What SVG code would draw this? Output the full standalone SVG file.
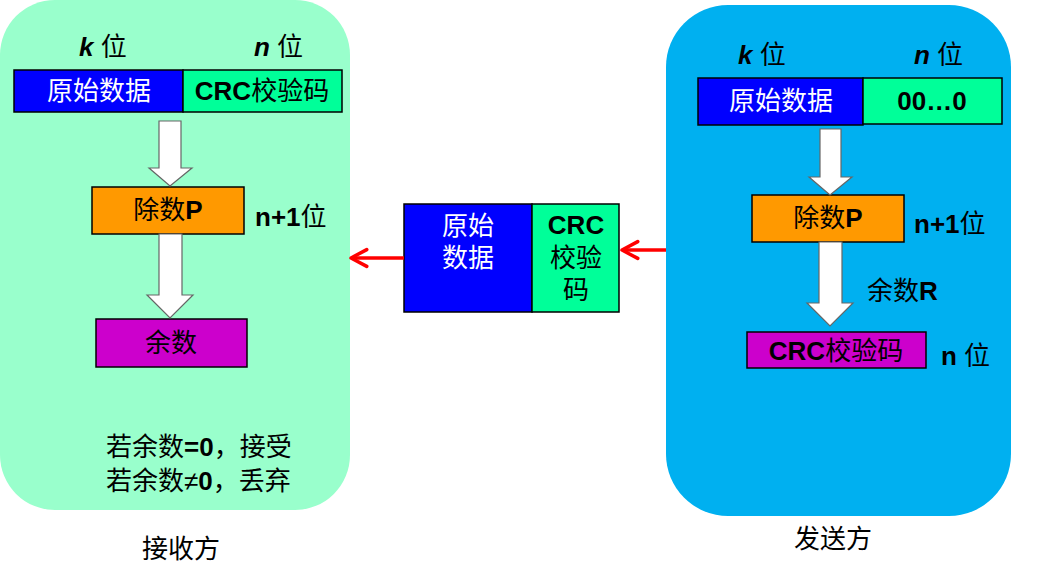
<svg xmlns="http://www.w3.org/2000/svg" width="1054" height="570" viewBox="0 0 1054 570">
<style>
.t{font-family:"Liberation Sans","Noto Sans CJK SC",sans-serif;font-size:26px;fill:#000}
.w{fill:#fff}
.b{font-weight:bold}
.i{font-style:italic;font-weight:bold}
.box{stroke:#000;stroke-width:1.5}
.ha{fill:#fff;stroke:#666;stroke-width:1.2}
.red{stroke:#f00;stroke-width:3.5;fill:none}
</style>
<defs>
<marker id="ah" markerUnits="strokeWidth" markerWidth="8" markerHeight="8" refX="4.5" refY="0" viewBox="-1 -4 7 8" orient="auto" overflow="visible">
<path d="M0,-2.4 L4.5,0 L0,2.4" fill="none" stroke="#f00" stroke-width="1" stroke-linecap="round" stroke-linejoin="round"/>
</marker>
</defs>
<g id="receiver">
<rect x="0" y="0" width="350" height="510" rx="55" fill="#99FFCC"/>
<text class="t" x="79" y="56"><tspan class="i">k</tspan> 位</text>
<text class="t" x="254" y="56"><tspan class="i">n</tspan> 位</text>
<g id="r-data"><rect class="box" x="14" y="70" width="169" height="42" fill="#0000FF"/><text class="t w" x="99" y="100" text-anchor="middle">原始数据</text></g>
<g id="r-crc"><rect class="box" x="183" y="70" width="159" height="42" fill="#00FF99"/><text class="t" x="262" y="100" text-anchor="middle"><tspan class="b">CRC</tspan>校验码</text></g>
<g id="r-div"><rect class="box" x="92" y="187" width="152" height="47" fill="#FF9900"/><text class="t" x="168" y="219" text-anchor="middle">除数<tspan class="b">P</tspan></text></g>
<text class="t" x="255" y="226"><tspan class="b">n+1</tspan>位</text>
<g id="r-rem"><rect class="box" x="96" y="319" width="151" height="48" fill="#CC00CC"/><text class="t" x="171" y="352" text-anchor="middle">余数</text></g>
<text class="t" x="106" y="456">若余数<tspan class="b">=0</tspan>，接受</text>
<text class="t" x="106" y="490">若余数<tspan>≠</tspan><tspan class="b">0</tspan>，丢弃</text>
</g>
<text class="t" x="142" y="558">接收方</text>
<g id="sender">
<rect x="666" y="5" width="345" height="511" rx="62" fill="#00B0F0"/>
<text class="t" x="738" y="64"><tspan class="i">k</tspan> 位</text>
<text class="t" x="914" y="64"><tspan class="i">n</tspan> 位</text>
<g id="s-data"><rect class="box" x="698" y="78" width="165" height="47" fill="#0000FF"/><text class="t w" x="781" y="110" text-anchor="middle">原始数据</text></g>
<g id="s-zero"><rect class="box" x="863" y="78" width="139" height="46" fill="#00FF99"/><text class="t b" x="932" y="110" text-anchor="middle">00…0</text></g>
<g id="s-div"><rect class="box" x="752" y="195" width="152" height="47" fill="#FF9900"/><text class="t" x="828" y="227" text-anchor="middle">除数<tspan class="b">P</tspan></text></g>
<text class="t" x="914" y="233"><tspan class="b">n+1</tspan>位</text>
<text class="t" x="867" y="300">余数<tspan class="b">R</tspan></text>
<g id="s-crc"><rect class="box" x="747" y="332" width="179" height="36" fill="#CC00CC"/><text class="t" x="836" y="360" text-anchor="middle"><tspan class="b">CRC</tspan>校验码</text></g>
<text class="t" x="941" y="365"><tspan class="b">n</tspan> 位</text>
</g>
<text class="t" x="794" y="548">发送方</text>
<g id="frame">
<rect class="box" x="404" y="204" width="128" height="108" fill="#0000FF"/>
<rect class="box" x="532" y="204" width="87" height="108" fill="#00FF99"/>
<text class="t w" x="468" y="235" text-anchor="middle">原始</text>
<text class="t w" x="468" y="267" text-anchor="middle">数据</text>
<text class="t b" x="576" y="234" text-anchor="middle">CRC</text>
<text class="t" x="576" y="267" text-anchor="middle">校验</text>
<text class="t" x="576" y="299" text-anchor="middle">码</text>
</g>
<g id="connectors">
<polygon class="ha" points="159,121 181,121 181,168 192,168 170,186 149,168 159,168"/>
<polygon class="ha" points="159,234 182,234 182,295 193,295 170,318 147,295 159,295"/>
<polygon class="ha" points="820,129 841,129 841,177 852,177 830,195 809,177 820,177"/>
<polygon class="ha" points="819,242 842,242 842,303 853,303 830,326 807,303 819,303"/>
<line class="red" x1="404" y1="258" x2="351" y2="258" marker-end="url(#ah)"/>
<line class="red" x1="666" y1="250" x2="622" y2="250" marker-end="url(#ah)"/>
</g>
</svg>
